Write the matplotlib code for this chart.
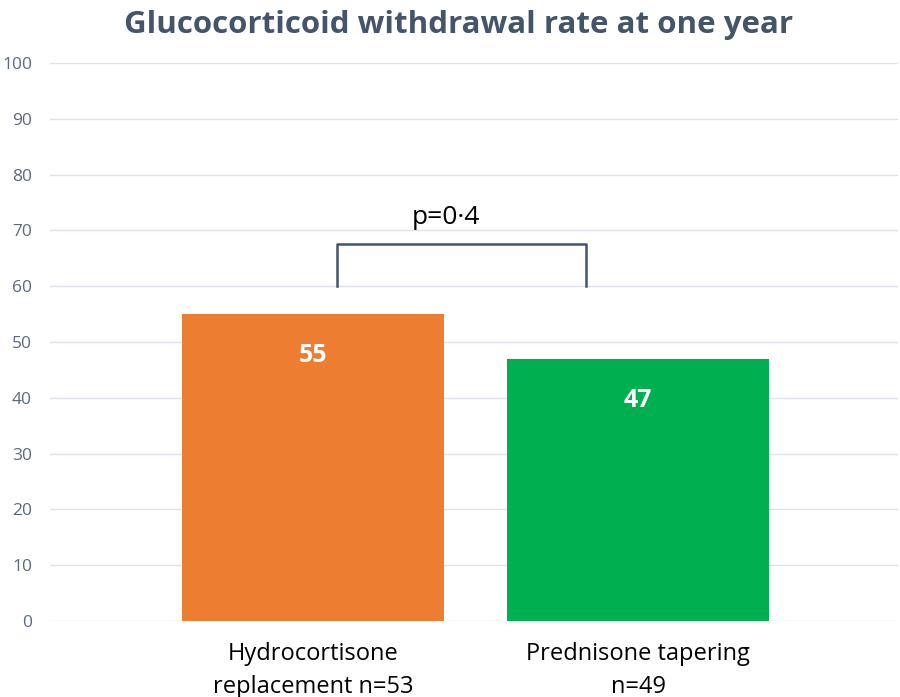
import matplotlib.pyplot as plt

categories = ['Hydrocortisone\nreplacement n=53', 'Prednisone tapering\nn=49']
rates = [55, 47]
bar_colors = ['#ED7D31', '#00B050']
yticks = list(range(0, 101, 10))
p_label = 'p=0·4'

plt.rcParams['font.family'] = ['Open Sans', 'DejaVu Sans']

fig = plt.figure(figsize=(9, 6.97), dpi=100)
ax = fig.add_axes([50 / 900, 76 / 697, 848 / 900, 558 / 697])

x = list(range(len(categories)))
bars = ax.bar(x, rates, width=0.807, color=bar_colors, zorder=2)

# value labels inside the bars
for xi, v in zip(x, rates):
    ax.text(xi, v - 7.4, str(v), ha='center', va='center', color='white',
            fontsize=18, fontweight='bold', zorder=3)

# significance bracket
ax.plot([0.074, 0.074, 0.84, 0.84], [60, 67.5, 67.5, 60], color='#44546A', lw=1.8, zorder=3)
ax.text(0.41, 72.4, p_label, ha='center', va='center', fontsize=19, color='black')

ax.set_xlim(-0.81, 1.80)
ax.set_ylim(0, 100)
ax.set_yticks(yticks)
ax.set_xticks(x)
ax.set_xticklabels(categories, fontsize=17, color='black', linespacing=1.5)
ax.tick_params(axis='y', colors='#5A6A7E', labelsize=12.5, length=0, pad=13)
ax.tick_params(axis='x', length=0, pad=15)
ax.grid(axis='y', color='#DDE2EA', lw=1, zorder=0)
for s in ax.spines.values():
    s.set_visible(False)

fig.suptitle('Glucocorticoid withdrawal rate at one year', x=0.51, y=0.985,
             fontsize=22.5, fontweight='bold', color='#44546A')

fig.savefig('out.png', dpi=100)
